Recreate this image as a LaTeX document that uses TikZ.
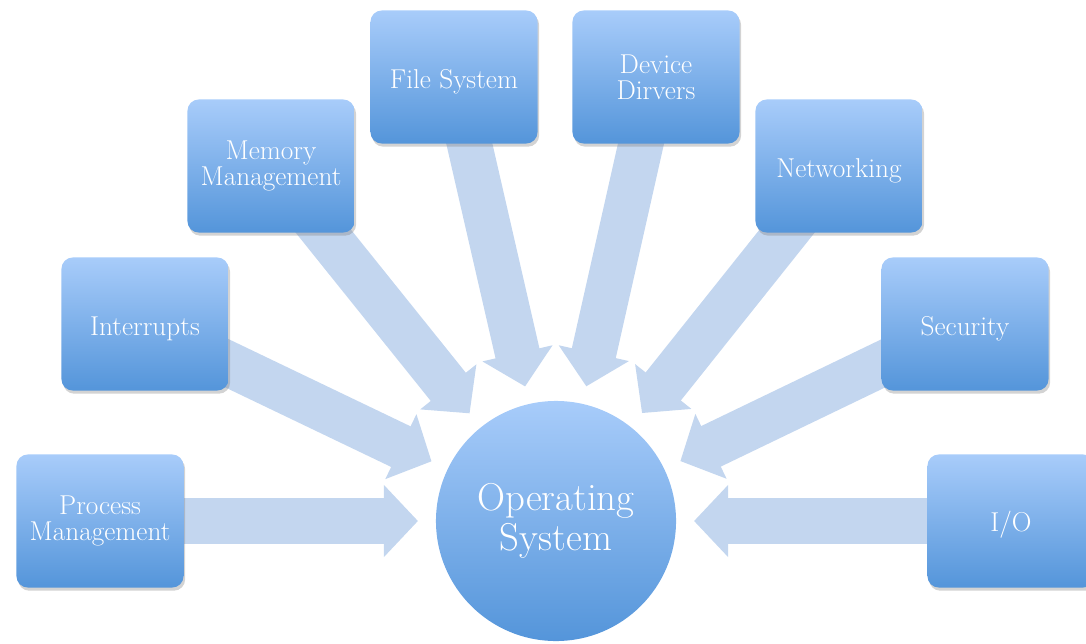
\documentclass[tikz,border=0pt]{standalone}
\usepackage{tikz}
\usetikzlibrary{arrows.meta,calc,backgrounds,shadows}

\definecolor{boxtop}{HTML}{A8CCFA}
\definecolor{boxbot}{HTML}{5495DA}
\definecolor{arrowfill}{HTML}{C3D6EF}

\begin{document}
\begin{tikzpicture}[x=0.025cm,y=-0.025cm,
  part/.style={rounded corners=8pt,top color=boxtop,bottom color=boxbot,
    minimum width=4.175cm,minimum height=3.325cm,align=center,text=white,
    font=\fontsize{19.4}{18.5}\selectfont,
    execute at begin node={\rule{0pt}{0.7cm}},
    drop shadow={opacity=0.35,shadow xshift=0.04cm,shadow yshift=-0.08cm}},
  core/.style={circle,top color=boxtop,bottom color=boxbot,minimum size=6cm,
    align=center,text=white,font=\fontsize{27.6}{28.5}\selectfont,
    execute at begin node={\rule{0pt}{0.95cm}}},
  bigarrow/.style={line width=1.125cm,draw=arrowfill,
    -{Triangle[width=1.75cm,length=0.85cm]}}]
\useasboundingbox (0,0) rectangle (1086,644);

\node[core] (os) at (556,521) {Operating\\System};

\node[part] (pm) at (100,521) {Process\\Management};
\node[part] (intr) at (145,324) {Interrupts};
\node[part] (mm) at (271,166) {Memory\\Management};
\node[part] (fs) at (454,77) {File System};
\node[part] (dd) at (656,77) {Device\\Dirvers};
\node[part] (net) at (839,166) {Networking};
\node[part] (sec) at (965,324) {Security};
\node[part] (io) at (1011,521) {I/O};

% arrow tips stop short of the circle
\begin{scope}[on background layer]
\foreach \n in {pm,intr,mm,fs,dd,net,sec,io}{
  \coordinate (tip-\n) at ($(os.center)!3.45cm!(\n.center)$);
  \draw[bigarrow] (\n.center) -- (tip-\n);
}
\end{scope}

\end{tikzpicture}
\end{document}
